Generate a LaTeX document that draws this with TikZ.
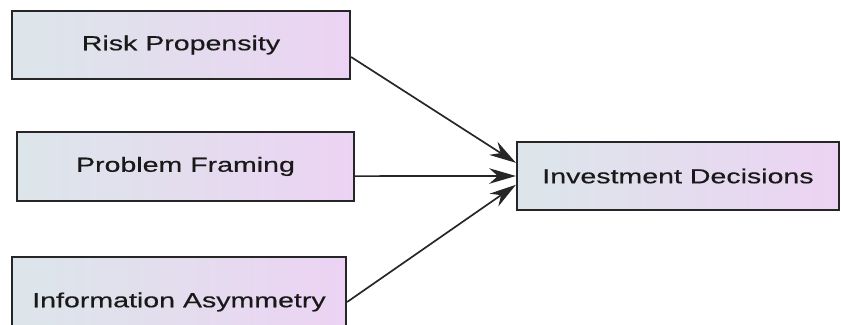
\documentclass[tikz,border=0pt]{standalone}
\usepackage{fontspec}
\setmainfont{Liberation Sans}
\newfontfamily\boxfont{Liberation Sans}[FakeStretch=1.4,FakeBold=0.35]
\usetikzlibrary{arrows.meta,positioning}
\definecolor{boxblue}{HTML}{DCE6EA}
\definecolor{boxpurple}{HTML}{ECD3F3}

\begin{document}
\begin{tikzpicture}[x=0.025cm, y=-0.025cm,
    factor/.style={draw=black!85, line width=1.5pt, rectangle, left color=boxblue, right color=boxpurple,
        minimum width=8.45cm, minimum height=1.7cm, inner sep=0pt,
        font=\boxfont\fontsize{14.5}{17}\selectfont, text=black!90},
    link/.style={-{Stealth[length=19pt,width=11pt]}, line width=1.2pt, black!85}]

   \useasboundingbox (0,0) rectangle (841,324);

   % Factors
    \node[factor] (RP) at (181,45) {Risk Propensity};
    \node[factor, minimum width=8.43cm, minimum height=1.72cm] (PF) at (185.5,166.5) {Problem Framing};
    \node[factor, minimum width=8.35cm, minimum height=2.25cm] (IA) at (179,302) {Information Asymmetry};
    \node[factor, minimum width=8.05cm] (ID) at (678,176) {Investment Decisions};

    % Arrows
    \draw[link] ([yshift=-0.3cm]RP.east) -- ([yshift=0.33cm]ID.west);
    \draw[link] ([yshift=-0.24cm]PF.east) -- (ID.west);
    \draw[link] (IA.east) -- ([yshift=-0.22cm]ID.west);
\end{tikzpicture}
\end{document}
